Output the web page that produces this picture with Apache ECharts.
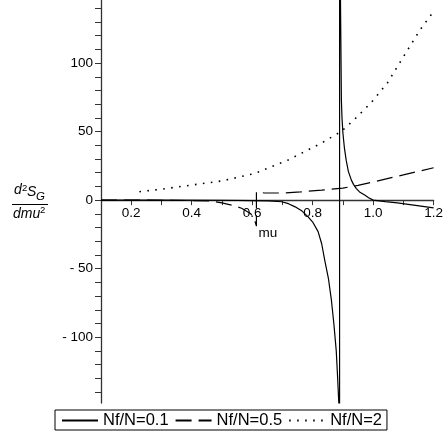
<!DOCTYPE html>
<html>
<head>
<meta charset="utf-8">
<script src="https://cdn.jsdelivr.net/npm/echarts@6/dist/echarts.min.js"></script>
<style>
html,body{margin:0;padding:0;background:#fff;}
#chart{width:446px;height:440px;}
</style>
</head>
<body>
<div id="chart"></div>
<script>
// ---- data ----
const seriesNames = ['Nf/N=0.1', 'Nf/N=0.5', 'Nf/N=2'];

const muA = [0.1, 0.3, 0.5, 0.6, 0.654, 0.697, 0.72, 0.742, 0.765, 0.785, 0.80, 0.818, 0.83, 0.84, 0.852, 0.862, 0.87, 0.878, 0.882, 0.886, 0.889,
             0.889, 0.892, 0.895, 0.897, 0.9, 0.905, 0.911, 0.918, 0.928, 0.935, 0.944, 0.955, 0.972, 0.985, 1.0, 1.04, 1.08, 1.14, 1.2];
const yA  = [0, 0, -0.1, -0.3, -0.5, -1.2, -2.6, -4.9, -8, -12.2, -16, -23, -32, -44, -57, -73, -90, -110, -127, -146, -160,
             160, 146, 73, 60, 49, 38, 29, 21, 14.6, 11.5, 8.6, 6, 3.7, 1.8, 0, -1.1, -2, -3.8, -5.6];

const muB = [0.1, 0.2, 0.3, 0.4, 0.467, 0.5, 0.533, 0.565, 0.594, 0.606, 0.614,
             0.614, 0.64, 0.7, 0.76, 0.83, 0.9, 0.95, 1.0, 1.05, 1.1, 1.15, 1.2];
const yB  = [0, 0, -0.1, -0.3, -0.7, -2, -3.7, -5.9, -9.7, -13, -19,
             6.1, 5.2, 5.2, 6, 7.3, 8.8, 10.8, 13.2, 15.9, 18.4, 21, 23.6];

const muC = [0.227, 0.3, 0.4, 0.5, 0.609, 0.719, 0.828, 0.894, 0.937, 0.992, 1.047, 1.101, 1.156, 1.198];
const yC  = [6.1, 8, 11, 14, 19.5, 29.3, 41.5, 50, 58.6, 70.8, 85.4, 104.9, 124.5, 137];

const xTickValues = [0.2, 0.3, 0.4, 0.5, 0.6, 0.7, 0.8, 0.9, 1.0, 1.1, 1.2];
const xLabelValues = [0.2, 0.4, 0.6, 0.8, 1.0, 1.2];
const yTickValues = [-140, -130, -120, -110, -100, -90, -80, -70, -60, -50, -40, -30, -20, -10, 0,
                     10, 20, 30, 40, 50, 60, 70, 80, 90, 100, 110, 120, 130, 140];
const yLabelValues = [-100, -50, 0, 50, 100];
const yMin = -148, yMax = 146;

const zip = (xs, ys) => xs.map((x, i) => [x, ys[i]]);
const FONT = 'Liberation Sans, Arial, sans-serif';
const axisColor = '#333';
const gridTop = 0, gridBottom = 37, chartH = 440;
const gridH = chartH - gridTop - gridBottom;
// x axis drawn through y = 0 (moved up from the grid bottom)
const xAxisOffset = -gridH * (0 - yMin) / (yMax - yMin);

const chart = echarts.init(document.getElementById('chart'), null, {renderer: 'canvas'});
chart.setOption({
  animation: false,
  backgroundColor: '#fff',
  grid: {left: 101, right: 10, top: gridTop, bottom: gridBottom, containLabel: false},
  xAxis: {
    type: 'value', min: 0.1, max: 1.2, position: 'bottom', offset: xAxisOffset,
    axisLine: {onZero: false, lineStyle: {color: axisColor, width: 1.3}},
    axisTick: {show: true, length: 5, customValues: xTickValues, lineStyle: {color: axisColor, width: 1}},
    axisLabel: {customValues: xLabelValues, margin: 6, color: '#000', fontSize: 13.5, fontFamily: FONT,
                formatter: v => v.toFixed(1)},
    splitLine: {show: false}
  },
  yAxis: {
    type: 'value', min: yMin, max: yMax,
    axisLine: {onZero: false, lineStyle: {color: axisColor, width: 1.3}},
    axisTick: {show: true, length: 6, customValues: yTickValues, lineStyle: {color: axisColor, width: 1}},
    axisLabel: {customValues: yLabelValues, margin: 8, color: '#000', fontSize: 13.5, fontFamily: FONT,
                formatter: v => v < 0 ? '- ' + (-v) : String(v)},
    splitLine: {show: false}
  },
  legend: {
    data: seriesNames,
    left: 55, top: 410,
    borderColor: '#000', borderWidth: 1, borderRadius: 0,
    padding: [2, 5, 1, 6],
    itemGap: 6, itemWidth: 36, itemHeight: 14,
    itemStyle: {opacity: 0},
    textStyle: {color: '#000', fontSize: 16.5, fontFamily: FONT},
    selectedMode: false
  },
  series: [
    {name: seriesNames[0], type: 'line', data: zip(muA, yA), symbol: 'none', showSymbol: false,
     lineStyle: {color: '#000', width: 1.2, type: 'solid'}, itemStyle: {color: '#000'}},
    {name: seriesNames[1], type: 'line', data: zip(muB, yB), symbol: 'none', showSymbol: false,
     lineStyle: {color: '#000', width: 1.2, type: [16, 7]}, itemStyle: {color: '#000'}},
    {name: seriesNames[2], type: 'line', data: zip(muC, yC), symbol: 'none', showSymbol: false,
     lineStyle: {color: '#000', width: 1.6, type: [1.6, 6.4]}, itemStyle: {color: '#000'}}
  ],
  graphic: [
    {type: 'text', x: 14, y: 183, style: {text: 'd', font: 'italic 14px ' + FONT, fill: '#000'}},
    {type: 'text', x: 22, y: 183, style: {text: '2', font: '9.5px ' + FONT, fill: '#000'}},
    {type: 'text', x: 27, y: 185, style: {text: 'S', font: 'italic 14px ' + FONT, fill: '#000'}},
    {type: 'text', x: 36, y: 191, style: {text: 'G', font: 'italic 11.5px ' + FONT, fill: '#000'}},
    {type: 'line', shape: {x1: 12, y1: 204.5, x2: 48, y2: 204.5}, style: {stroke: '#000', lineWidth: 1}},
    {type: 'text', x: 13, y: 207, style: {text: 'dmu', font: 'italic 14px ' + FONT, fill: '#000'}},
    {type: 'text', x: 40, y: 205, style: {text: '2', font: '9.5px ' + FONT, fill: '#000'}},
    {type: 'text', x: 268, y: 233, style: {text: 'mu', font: '13.5px ' + FONT, fill: '#000', align: 'center', verticalAlign: 'middle'}}
  ]
});
</script>
</body>
</html>
